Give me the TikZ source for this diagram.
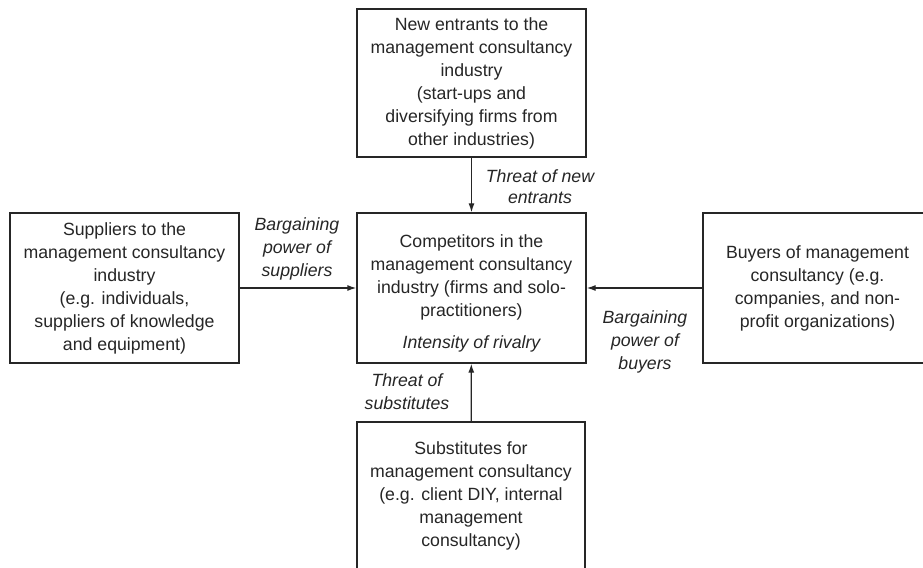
\documentclass[tikz,border=0pt]{standalone}
\usepackage{fontspec}
\setmainfont{Liberation Sans}
\usetikzlibrary{arrows.meta}
\begin{document}
\begin{tikzpicture}[x=1bp,y=-1bp,
  ink/.style={text=black!85},
  plain/.style={ink, inner sep=0pt, align=center, font=\fontsize{17.7bp}{23bp}\selectfont},
  box/.style={plain, draw=black!85, line width=1.3bp},
  lbl/.style={plain, font=\fontsize{17.7bp}{23bp}\selectfont\itshape},
  arr/.style={draw=black!85, line width=1.3bp, -{Latex[length=9bp,width=6bp]}}]
\useasboundingbox (0,0) rectangle (923,568);
\fill[white] (0,0) rectangle (923,568);

% the five forces
\node[box, minimum width=229bp, minimum height=148bp] (new) at (471.5,83)
  {New entrants to the\\management consultancy\\industry\\(start-ups and\\diversifying firms from\\other industries)};
\node[box, minimum width=229bp, minimum height=150bp] (comp) at (471.5,288) {};
\node[plain] (compText) at (471.5,277)
  {Competitors in the\\management consultancy\\industry (firms and solo-\\practitioners)};
\node[lbl] (rivalry) at (471.5,344) {Intensity of rivalry};
\node[box, minimum width=229bp, minimum height=150bp] (sup) at (124.5,288)
  {Suppliers to the\\management consultancy\\industry\\(e.g. individuals,\\suppliers of knowledge\\and equipment)};
\node[box, minimum width=229bp, minimum height=150bp] (buy) at (817.5,288)
  {Buyers of management\\consultancy (e.g.\\companies, and non-\\profit organizations)};
\node[box, minimum width=228bp, minimum height=148bp] (sub) at (471,496)
  {Substitutes for\\management consultancy\\(e.g. client DIY, internal\\management\\consultancy)};

% pressures on the competitors
\draw[arr] (new) -- (comp);
\draw[arr] (sup) -- (comp);
\draw[arr] (buy) -- (comp);
\draw[arr] (sub) -- (comp);

% force labels
\node[lbl, font=\fontsize{17.7bp}{21bp}\selectfont\itshape] (tNew) at (540,187) {Threat of new\\entrants};
\node[lbl] (tSup) at (297,248.5) {Bargaining\\power of\\suppliers};
\node[lbl] (tBuy) at (645,342) {Bargaining\\power of\\buyers};
\node[lbl] (tSub) at (407,391.5) {Threat of\\substitutes};
\end{tikzpicture}
\end{document}
